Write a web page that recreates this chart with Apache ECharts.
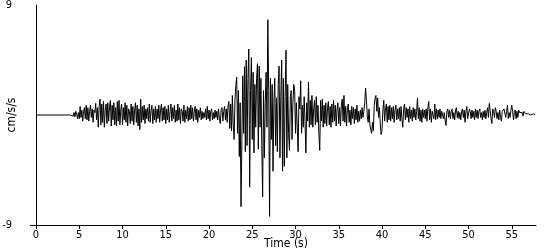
<!DOCTYPE html>
<html>
<head>
<meta charset="utf-8">
<script src="https://cdn.jsdelivr.net/npm/echarts@6/dist/echarts.min.js"></script>
<style>html,body{margin:0;padding:0;background:#fff}#c{width:550px;height:250px}</style>
</head>
<body>
<div id="c"></div>
<script>
// Accelerogram samples (cm/s/s), one row per second, 0.1 s apart, starting at 4.0 s
var startTime = 4.0;
var sampleStep = 0.1;
var accel = [
  0,0,0.1,-0.1,0.2,-0.15,0.3,0.1,-0.3,0.2,
  -0.3,0.7,-0.2,0.4,-0.5,0.3,0.6,-0.3,0.8,-0.4,
  0.6,-0.5,0.3,0.8,-0.2,0.5,-0.6,0.4,0.2,0.95,
  -0.4,0.6,-1.0,0.7,1.3,-0.8,0.9,-0.6,1.1,-1.0,
  0.4,0.9,-0.7,1.0,-0.5,0.7,1.2,-0.9,0.8,-0.4,
  1.0,-0.8,0.6,-0.9,1.1,-0.5,1.2,-0.8,0.4,0.9,
  -0.8,0.6,-0.4,1.0,-0.6,0.8,-0.9,0.5,0.3,-0.7,
  0.9,-0.5,0.7,-0.8,0.4,1.0,-0.6,0.8,-0.9,0.5,
  -1.2,1.3,-0.6,0.7,-0.4,0.8,-0.7,0.5,-0.3,0.6,
  -0.5,0.9,-0.6,0.4,0.8,-0.7,0.5,-0.4,0.7,-0.6,
  0.5,-0.3,0.8,-0.6,0.4,0.9,-0.5,0.6,-0.4,0.7,
  -0.7,0.5,-0.4,0.8,-0.6,0.3,0.9,-0.5,0.6,-0.3,
  0.8,-0.6,0.4,-0.5,0.9,-0.4,0.6,-0.7,0.5,0.3,
  -0.5,0.8,-0.6,0.4,-0.3,0.7,-0.5,0.6,-0.4,0.8,
  -0.3,0.6,-0.5,0.3,0.7,-0.4,0.5,-0.6,0.4,-0.2,
  0.6,-0.4,0.3,-0.3,0.2,-0.2,0.5,-0.4,0.7,-0.3,
  0.4,-0.5,0.3,0.5,-0.4,0.2,-0.3,0.4,-0.2,0.3,
  -0.4,0.5,-0.3,-0.7,0.4,0.6,-0.5,0.3,0.7,-0.4,
  0.5,-0.6,0.8,1.1,-1.1,0.9,-1.3,1.6,-0.8,-2.0,
  1.2,2.4,3.1,-1.5,2.0,-3.4,1.0,-7.5,-2.0,3.2,
  -1.5,3.95,-3.0,4.5,-2.5,3.0,5.4,-5.9,2.0,4.7,
  -2.0,3.5,-3.1,2.5,-1.0,3.0,4.2,-2.8,4.0,-1.0,
  3.0,-2.5,-6.7,2.0,-3.5,1.0,3.5,-1.0,7.8,2.0,
  -8.3,3.0,-2.0,2.5,-4.6,1.0,3.0,-2.5,1.4,-3.0,
  2.5,4.0,-3.5,1.5,4.5,-4.6,3.0,-4.2,1.5,5.3,
  -3.5,2.5,-1.5,-2.9,1.5,2.0,-2.0,1.0,2.5,2.0,
  -1.5,1.0,-1.0,-3.0,1.5,0.5,2.8,-1.5,0.8,-1.0,
  1.5,-0.5,-3.1,1.0,-0.5,2.7,-1.0,1.2,-0.8,1.6,
  -1.0,0.5,1.2,-0.8,1.5,-0.6,0.8,-1.5,-2.9,1.2,
  -0.5,1.3,-1.0,0.8,-0.7,1.0,-0.9,0.6,1.1,-0.8,
  0.7,-1.0,0.9,-0.6,1.2,-0.5,0.8,-0.9,0.5,1.0,
  -0.7,0.6,-0.9,0.8,1.3,-0.5,1.6,-0.6,0.7,-0.9,
  0.5,0.9,-0.6,0.4,-0.8,0.7,-0.3,0.6,-0.7,0.5,
  -0.4,0.8,-0.6,0.3,-0.5,0.4,-0.3,0.6,-0.2,0.3,
  1.0,2.2,1.2,-0.1,-0.6,0.5,-0.8,-1.2,-1.5,-0.6,
  -1.3,0.8,1.4,1.6,0.3,1.4,-0.2,0.6,-0.8,-1.6,
  -1.2,0.4,1.2,-0.5,0.5,0.9,-0.6,0.7,-0.4,0.8,
  -0.5,0.6,-0.3,0.7,-0.6,0.4,0.8,-0.4,0.5,-0.3,
  0.6,-0.5,0.7,-0.3,-1.0,0.5,0.9,-0.4,0.6,-0.2,
  0.5,-0.6,0.7,-0.3,0.4,-0.5,0.6,-0.2,0.5,-0.4,
  0.3,1.4,-0.3,0.6,-0.5,0.4,-0.6,0.5,-0.2,0.4,
  -0.3,0.5,-0.5,0.6,1.1,-0.4,0.5,-0.6,0.3,0.4,
  -0.3,0.9,-0.4,0.5,-0.3,0.4,-0.2,0.5,-0.3,0.3,
  0.4,-0.3,0.2,-0.5,-0.85,0.3,0.5,-0.2,0.4,-0.3,
  0.3,0.5,-0.3,0.2,-0.4,0.4,0.6,-0.2,0.3,-0.3,
  0.2,-0.4,0.3,0.5,-0.2,0.4,-0.6,0.3,0.7,-0.3,
  -0.2,0.5,0.3,-0.3,0.4,-0.2,0.3,-0.4,0.5,-0.2,
  0.4,-0.3,0.3,0.5,-0.2,0.2,-0.4,0.3,-0.2,0.4,
  -0.3,0.2,0.6,-0.2,0.95,0.4,-0.3,-0.7,0.5,0.3,
  -0.2,0.6,0.3,-0.3,0.2,-0.4,0.4,-0.2,-0.5,0.3,
  0.2,0.5,0.6,-0.2,0.3,0.8,-0.3,0.2,-0.2,0.4,
  0.8,0.3,-0.4,0.2,0.4,-0.3,0.3,-0.2,0.4,0.2,
  0.3,0.1,0.2,-0.1,0.3,0.2,0.1,0.0,0.2,0.1,
  0.1,0.1,0.0,0.1,0.0,0.1,0.0,0.0
];
var xTickLabels = [0,5,10,15,20,25,30,35,40,45,50,55];
var yTickLabels = [-9, 9];

var seriesData = [[0, 0]];
for (var i = 0; i < accel.length; i++) {
  seriesData.push([+(startTime + i * sampleStep).toFixed(2), accel[i]]);
}

var fontFam = 'Liberation Sans Narrow, DejaVu Sans Condensed, Liberation Sans, sans-serif';
var chart = echarts.init(document.getElementById('c'), null, {renderer: 'canvas'});
chart.setOption({
  animation: false,
  backgroundColor: '#fff',
  grid: {left: 36, right: 14, top: 5, bottom: 25, containLabel: false, outerBoundsMode: 'none'},
  xAxis: {
    type: 'value', min: 0, max: 57.8, interval: 5,
    name: 'Time (s)', nameLocation: 'middle', nameGap: 13, nameMoveOverlap: false,
    nameTextStyle: {color: '#000', fontSize: 12, fontFamily: fontFam},
    axisLine: {onZero: false, lineStyle: {color: '#000', width: 1}},
    axisTick: {show: true, length: 4, customValues: xTickLabels, lineStyle: {color: '#000'}},
    axisLabel: {color: '#000', fontSize: 11, fontFamily: fontFam, margin: 5, customValues: xTickLabels},
    splitLine: {show: false}
  },
  yAxis: {
    type: 'value', min: -9, max: 9, interval: 18,
    name: 'cm/s/s', nameLocation: 'middle', nameGap: 18, nameRotate: 90, nameMoveOverlap: false,
    nameTextStyle: {color: '#000', fontSize: 12, fontFamily: fontFam},
    axisLine: {show: true, onZero: false, lineStyle: {color: '#000', width: 1}},
    axisTick: {show: true, length: 6, customValues: [-9], lineStyle: {color: '#000'}},
    axisLabel: {color: '#000', fontSize: 11, fontFamily: fontFam, margin: 24, customValues: yTickLabels},
    splitLine: {show: false}
  },
  series: [{
    type: 'line', data: seriesData, showSymbol: false, symbol: 'none',
    lineStyle: {color: '#000', width: 1}, silent: true
  }]
});
</script>
</body>
</html>
